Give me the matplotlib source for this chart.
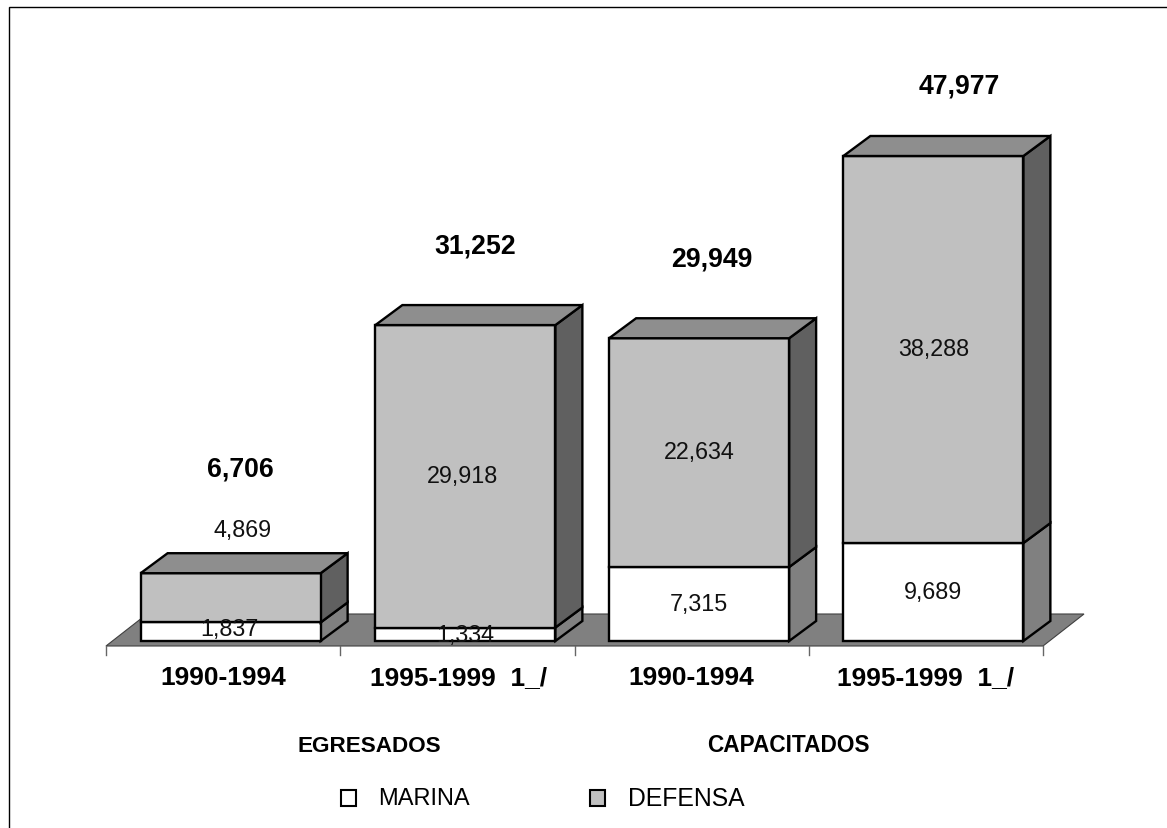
import matplotlib
matplotlib.use("Agg")
import matplotlib.pyplot as plt
from matplotlib.patches import Polygon, Rectangle

plt.rcParams['font.family'] = ['Liberation Sans', 'DejaVu Sans']

W, H = 1167, 829
categories = ['1990-1994', '1995-1999  1_/', '1990-1994', '1995-1999  1_/']
marina = [1837, 1334, 7315, 9689]
defensa = [4869, 29918, 22634, 38288]
totals = [6706, 31252, 29949, 47977]
marina_labels = ['1,837', '1,334', '7,315', '9,689']
defensa_labels = ['4,869', '29,918', '22,634', '38,288']
total_labels = ['6,706', '31,252', '29,949', '47,977']
groups = ['EGRESADOS', 'CAPACITADOS']
series_names = ['MARINA', 'DEFENSA']

C_MARINA = '#ffffff'
C_DEFENSA = '#c0c0c0'
C_FLOOR = '#808080'
C_TOP = '#8e8e8e'
C_SIDE_D = '#606060'
C_SIDE_M = '#808080'

fig = plt.figure(figsize=(W / 100, H / 100), dpi=100, facecolor='white')

# Axes: x = category slots, y = values; pixel box 106..1043 / baseline 642 to top 157
x0, x1, y0, y1 = 106, 1043, 642, 157
ax = fig.add_axes([x0 / W, 1 - y0 / H, (x1 - x0) / W, (y0 - y1) / H])
ax.set_xlim(0, 4)
ax.set_ylim(0, 47977)
ax.axis('off')

px_x = 4 / (x1 - x0)
px_y = 47977 / (y0 - y1)
DX, DY = 27 * px_x, 20 * px_y

# floor
fy = -5 * px_y
fx = 41 * px_x
fh = 32 * px_y
ax.add_patch(Polygon([(0, fy), (4, fy), (4 + fx, fy + fh), (fx, fy + fh)], closed=True,
                     fc=C_FLOOR, ec='#404040', lw=0.8, clip_on=False, zorder=1))
for i in range(5):
    ax.plot([i, i], [fy, fy - 9 * px_y], color='#666666', lw=1.0, clip_on=False, zorder=1)

# label nudges in pixels (dx from bar centre, dy up from the bar part)
total_dx = [9.5, 9.5, 12.5, 26]
total_dy = [105, 80, 80, 71]
defensa_dx = [12, -3, 0, 0]
bar_dx = [7.5, 8, 7.5, 7.5]

bar_w = 180 * px_x
LW = 1.7
for i in range(4):
    left = i + 0.5 + bar_dx[i] * px_x - bar_w / 2
    right = left + bar_w
    m, d = marina[i], marina[i] + defensa[i]
    for lo, hi, front, side in ((0, m, C_MARINA, C_SIDE_M), (m, d, C_DEFENSA, C_SIDE_D)):
        ax.add_patch(Polygon([(right, lo), (right + DX, lo + DY), (right + DX, hi + DY), (right, hi)],
                             closed=True, fc=side, ec='black', lw=LW, joinstyle='miter', clip_on=False, zorder=3))
        ax.add_patch(Polygon([(left, lo), (right, lo), (right, hi), (left, hi)],
                             closed=True, fc=front, ec='black', lw=LW, joinstyle='miter', clip_on=False, zorder=3))
    ax.add_patch(Polygon([(left, d), (right, d), (right + DX, d + DY), (left + DX, d + DY)],
                         closed=True, fc=C_TOP, ec='black', lw=LW, joinstyle='miter', clip_on=False, zorder=3))
    cx = (left + right) / 2
    fs = 16.8
    ym = m / 2 + (1 * px_y if i > 1 else 3 * px_y if i == 0 else 0)
    ax.text(cx - (1 * px_x if i == 0 else 0), ym, marina_labels[i], ha='center', va='center',
            fontsize=fs, color='#111111', zorder=5)
    ytext = m + defensa[i] / 2 + 1 * px_y if i > 0 else d + 44 * px_y
    ax.text(cx + defensa_dx[i] * px_x, ytext, defensa_labels[i], ha='center', va='center',
            fontsize=fs, color='#111111', zorder=5)
    ax.text(cx + total_dx[i] * px_x, totals[i] + total_dy[i] * px_y, total_labels[i],
            ha='center', va='center', fontsize=19.2, fontweight='bold', zorder=5)
    ax.text(i + 0.5 + (1 * px_x if i == 1 else 0), -36 * px_y, categories[i], ha='center', va='center',
            fontsize=19, fontweight='bold', clip_on=False)

ov = fig.add_axes([0, 0, 1, 1], zorder=5)
ov.patch.set_alpha(0)
ov.set_xlim(0, W)
ov.set_ylim(H, 0)
ov.axis('off')
ov.plot([8.5, 8.5, W], [H, 7.5, 7.5], color='black', lw=1.0, solid_joinstyle='miter')
ov.text(369.5, 746, groups[0], ha='center', va='center', fontsize=16.2, fontweight='bold')
ov.text(788.5, 746, groups[1], ha='center', va='center', fontsize=16.3, fontweight='bold')
for (sx, tx, name, col, fsz) in ((341, 378, series_names[0], C_MARINA, 17),
                                 (590, 628, series_names[1], C_DEFENSA, 17.8)):
    ov.add_patch(Rectangle((sx, 791), 15, 15.5, fc=col, ec='black', lw=1.5))
    ov.text(tx, 799, name, ha='left', va='center', fontsize=fsz)

fig.savefig('out.png', dpi=100)
